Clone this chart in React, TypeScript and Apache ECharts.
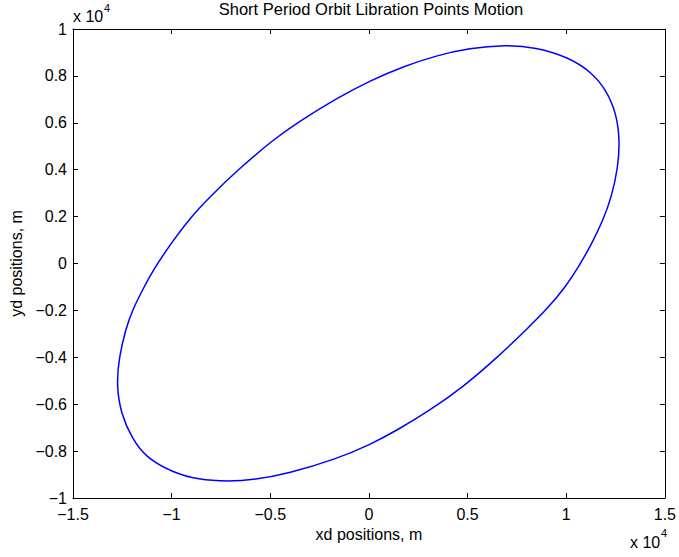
import React, { useEffect, useRef } from "react";
import * as echarts from "echarts";

// Orbit track (metres), clockwise from the top
const xd: number[] = [
  6935, 8442, 10116, 11291, 12045, 12548, 12714, 12628, 12296, 11859, 11291,
  10618, 9950, 9111, 8065, 6432, 4759, 3080, 1407, 65, -1608, -4121, -5794,
  -7136, -8643, -9985, -11322, -11995, -12578, -12799, -12663, -12327, -11995,
  -11492, -10955, -10050, -9045, -8141, -6558, -4789, -3643, -1608, 65, 1744,
  3417, 5090, 6935,
];
const yd: number[] = [
  9326, 9224, 8797, 8158, 7377, 6384, 5245, 4107, 2827, 1834, 840, -158, -1011,
  -1864, -2751, -4064, -5275, -6269, -7122, -7719, -8328, -8968, -9224, -9296,
  -9224, -8900, -8260, -7476, -6409, -5130, -3996, -2785, -2004, -1151, -299,
  840, 1962, 2785, 4064, 5318, 6000, 7058, 7804, 8401, 8870, 9181, 9326,
];
const xTicks: number[] = [-15000, -10000, -5000, 0, 5000, 10000, 15000];
const yTicks: number[] = [-10000, -8000, -6000, -4000, -2000, 0, 2000, 4000, 6000, 8000, 10000];

const FONT = '"Liberation Sans", Arial, Helvetica, sans-serif';

const fmt = (v: number) => {
  const s = String(Math.round(v) / 1e4);
  return s.replace("-", "\u2212");
};

// Closed uniform cubic B-spline through the pixel points (rendering only:
// it damps the small reading noise of the hand-read points)
function closedCurve(pts: number[][]): string {
  let p = pts.slice();
  const a = p[0];
  const b = p[p.length - 1];
  if (Math.abs(a[0] - b[0]) < 1e-6 && Math.abs(a[1] - b[1]) < 1e-6) p = p.slice(0, -1);
  const n = p.length;
  const at = (i: number) => p[((i % n) + n) % n];
  const f = (v: number) => v.toFixed(2);
  let d = "";
  for (let i = 0; i < n; i++) {
    const p0 = at(i - 1);
    const p1 = at(i);
    const p2 = at(i + 1);
    const p3 = at(i + 2);
    const sx = (p0[0] + 4 * p1[0] + p2[0]) / 6;
    const sy = (p0[1] + 4 * p1[1] + p2[1]) / 6;
    const c1x = (2 * p1[0] + p2[0]) / 3;
    const c1y = (2 * p1[1] + p2[1]) / 3;
    const c2x = (p1[0] + 2 * p2[0]) / 3;
    const c2y = (p1[1] + 2 * p2[1]) / 3;
    const ex = (p1[0] + 4 * p2[0] + p3[0]) / 6;
    const ey = (p1[1] + 4 * p2[1] + p3[1]) / 6;
    if (i === 0) d += `M${f(sx)},${f(sy)}`;
    d += ` C${f(c1x)},${f(c1y)} ${f(c2x)},${f(c2y)} ${f(ex)},${f(ey)}`;
  }
  return d + " Z";
}

export default function App() {
  const ref = useRef<HTMLDivElement>(null);
  useEffect(() => {
    if (!ref.current) return;
    const chart = echarts.init(ref.current, null, { renderer: "svg" });
    const axisCommon = {
      type: "value" as const,
      axisLine: { show: true, onZero: false, lineStyle: { color: "#000", width: 1 } },
      axisTick: { show: true, inside: true, length: 5, lineStyle: { color: "#000", width: 1 } },
      splitLine: { show: false },
    };
    chart.setOption({
      animation: false,
      backgroundColor: "#fff",
      title: {
        text: "Short Period Orbit Libration Points Motion",
        left: 371,
        textAlign: "center",
        top: 0,
        padding: 0,
        textStyle: { fontFamily: FONT, fontSize: 16.5, fontWeight: "normal", color: "#000" },
      },
      grid: { left: 73, right: 10, top: 29, bottom: 59, containLabel: false },
      xAxis: [
        {
          ...axisCommon,
          position: "bottom",
          min: xTicks[0],
          max: xTicks[xTicks.length - 1],
          interval: 5000,
          axisLabel: { show: true, formatter: fmt, margin: 8, fontFamily: FONT, fontSize: 16, color: "#000" },
          name: "xd positions, m",
          nameLocation: "middle",
          nameGap: 27,
          nameTextStyle: { fontFamily: FONT, fontSize: 16, color: "#000" },
        },
        {
          ...axisCommon,
          position: "top",
          min: xTicks[0],
          max: xTicks[xTicks.length - 1],
          interval: 5000,
          axisLabel: { show: false },
        },
      ],
      yAxis: [
        {
          ...axisCommon,
          position: "left",
          min: yTicks[0],
          max: yTicks[yTicks.length - 1],
          interval: 2000,
          axisLabel: { show: true, formatter: fmt, margin: 6, fontFamily: FONT, fontSize: 16, color: "#000" },
          name: "yd positions, m",
          nameLocation: "middle",
          nameGap: 45,
          nameTextStyle: { fontFamily: FONT, fontSize: 16, color: "#000" },
        },
        {
          ...axisCommon,
          position: "right",
          min: yTicks[0],
          max: yTicks[yTicks.length - 1],
          interval: 2000,
          axisLabel: { show: false },
        },
      ],
      graphic: [
        { type: "text", left: 73, top: 8, style: { text: "x 10", fontFamily: FONT, fontSize: 16, fill: "#000" } },
        { type: "text", left: 104, top: 2, style: { text: "4", fontFamily: FONT, fontSize: 11, fill: "#000" } },
        { type: "text", left: 630, top: 534, style: { text: "x 10", fontFamily: FONT, fontSize: 16, fill: "#000" } },
        { type: "text", left: 661, top: 527, style: { text: "4", fontFamily: FONT, fontSize: 11, fill: "#000" } },
      ],
      series: [
        {
          type: "custom",
          coordinateSystem: "cartesian2d",
          xAxisIndex: 0,
          yAxisIndex: 0,
          data: xd.map((x, i) => [x, yd[i]]),
          encode: { x: 0, y: 1 },
          renderItem: (params: any, api: any) => {
            if (params.dataIndex !== 0) return null;
            const pts = xd.map((x, i) => api.coord([x, yd[i]]));
            return {
              type: "path",
              shape: { pathData: closedCurve(pts) },
              style: { stroke: "#0000ff", fill: "none", lineWidth: 1.5 },
              silent: true,
            };
          },
        },
      ],
    });
    return () => chart.dispose();
  }, []);
  return (
    <div
      ref={ref}
      style={{ position: "fixed", left: 0, top: 0, width: 679, height: 557, background: "#fff" }}
    />
  );
}
